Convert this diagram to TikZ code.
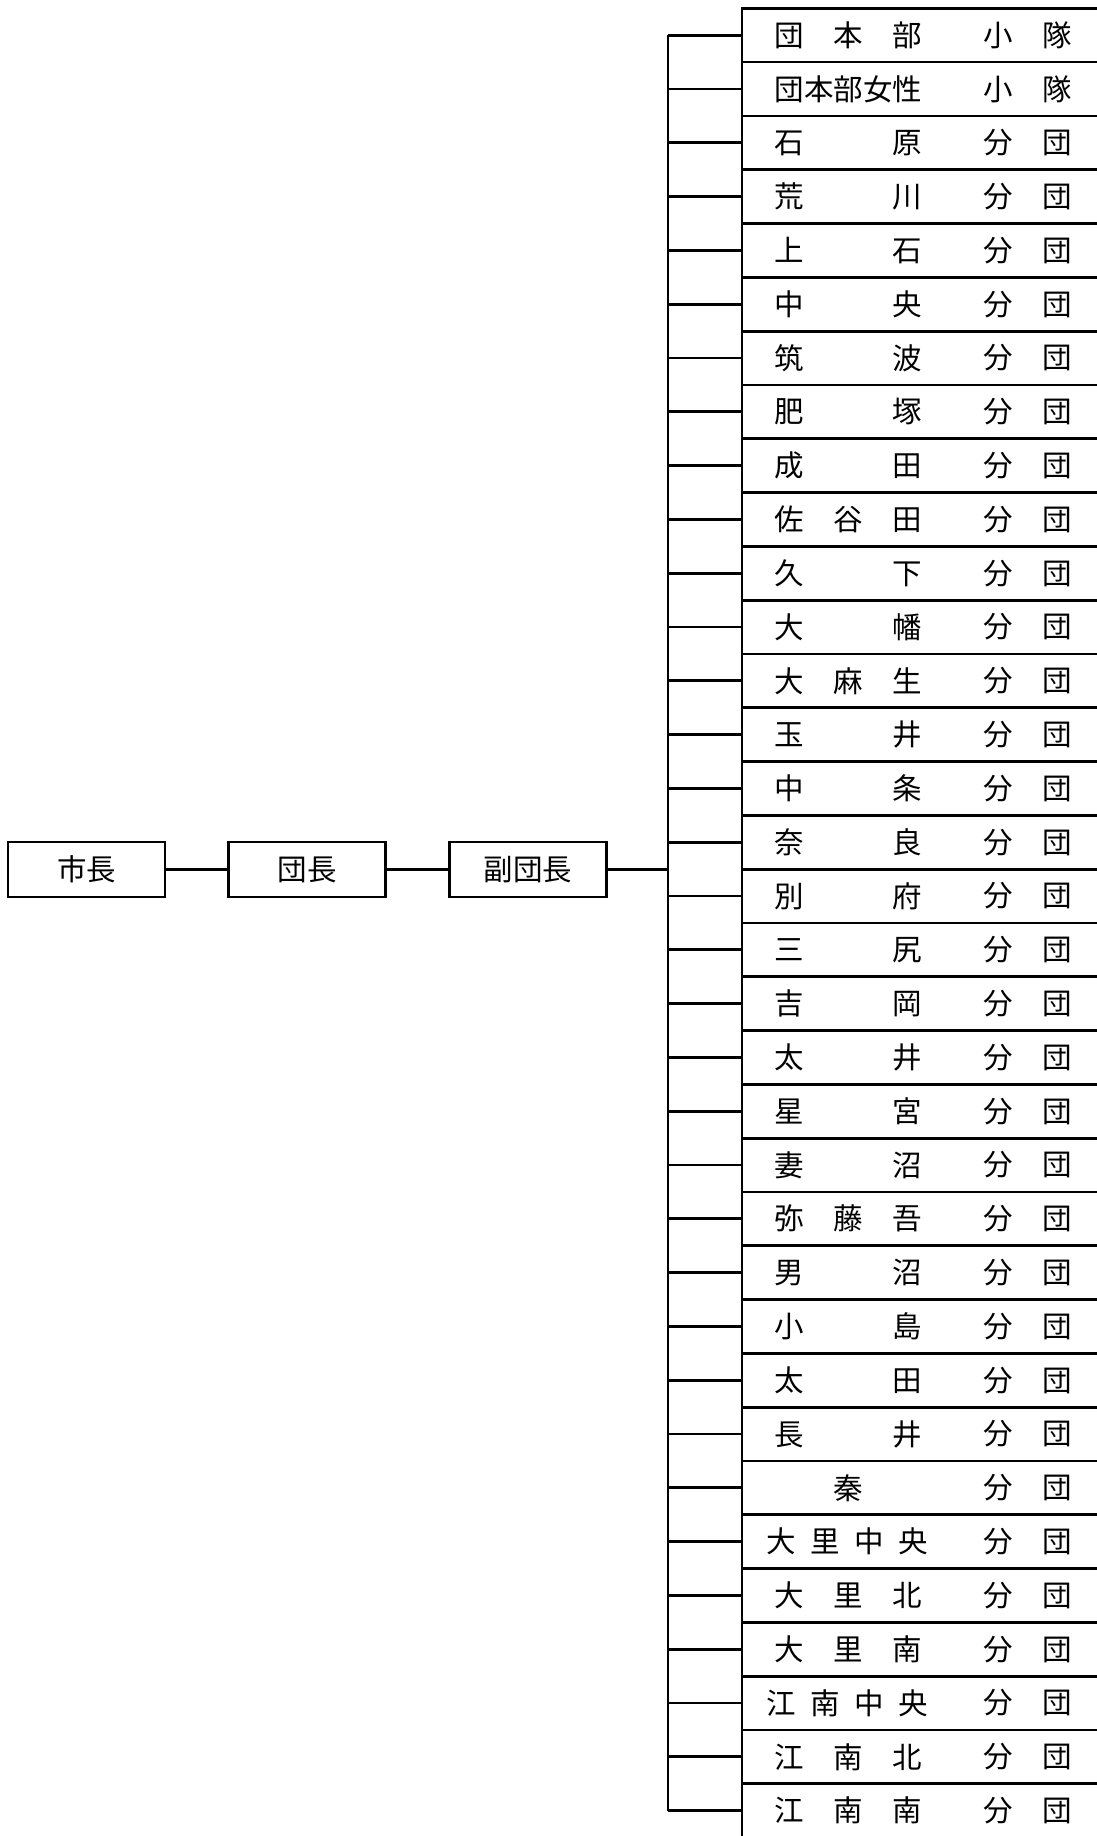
\documentclass[tikz,border=0pt]{standalone}
\usepackage{fontspec}
\newfontfamily\cjk{Noto Sans CJK JP}
\begin{document}
\begin{tikzpicture}[x=1pt,y=-1pt,
  line width=2.8pt,
  every node/.style={font=\cjk\fontsize{29.5}{32}\selectfont},
  topbox/.style={draw,rectangle,minimum width=157pt,minimum height=55pt,inner sep=0pt},
  rowbox/.style={draw,rectangle,minimum width=360pt,minimum height=53.8pt,inner sep=0pt,outer sep=0pt},
  txt/.style={anchor=west,inner sep=0pt}]
\useasboundingbox (0,0) rectangle (1096,1836);
% top-level chain
\node[topbox] (mayor) at (86.5,869.5) {市長};
\node[topbox] (chief) at (307,869.5) {団長};
\node[topbox] (vice)  at (528,869.5) {副団長};
\draw (mayor) -- (chief);
\draw (chief) -- (vice);
% rows
\foreach \i/\nm/\sf in {
  1/団　本　部/小　隊,
  2/団本部女性/小　隊,
  3/石　　　原/分　団,
  4/荒　　　川/分　団,
  5/上　　　石/分　団,
  6/中　　　央/分　団,
  7/筑　　　波/分　団,
  8/肥　　　塚/分　団,
  9/成　　　田/分　団,
  10/佐　谷　田/分　団,
  11/久　　　下/分　団,
  12/大　　　幡/分　団,
  13/大　麻　生/分　団,
  14/玉　　　井/分　団,
  15/中　　　条/分　団,
  16/奈　　　良/分　団,
  17/別　　　府/分　団,
  18/三　　　尻/分　団,
  19/吉　　　岡/分　団,
  20/太　　　井/分　団,
  21/星　　　宮/分　団,
  22/妻　　　沼/分　団,
  23/弥　藤　吾/分　団,
  24/男　　　沼/分　団,
  25/小　　　島/分　団,
  26/太　　　田/分　団,
  27/長　　　井/分　団,
  28/　　秦/分　団,
  29/{\hspace{-8pt}大\hspace{14.5pt}里\hspace{14.5pt}中\hspace{14.5pt}央}/分　団,
  30/大　里　北/分　団,
  31/大　里　南/分　団,
  32/{\hspace{-8pt}江\hspace{14.5pt}南\hspace{14.5pt}中\hspace{14.5pt}央}/分　団,
  33/江　南　北/分　団,
  34/江　南　南/分　団}{
  \pgfmathsetmacro\cy{8.3+(\i-0.5)*53.8}
  \node[rowbox] (r\i) at (922,\cy) {};
  \node[txt] (n\i) at (773.5,\cy) {\nm};
  \node[txt] (s\i) at (982.5,\cy) {\sf};
  \coordinate (t\i) at (668,\cy);
  \draw (t\i) -- (r\i.west);
}
\draw (t1) -- (t34);
\draw (vice.east) -- (vice.east -| t1);
\end{tikzpicture}
\end{document}
